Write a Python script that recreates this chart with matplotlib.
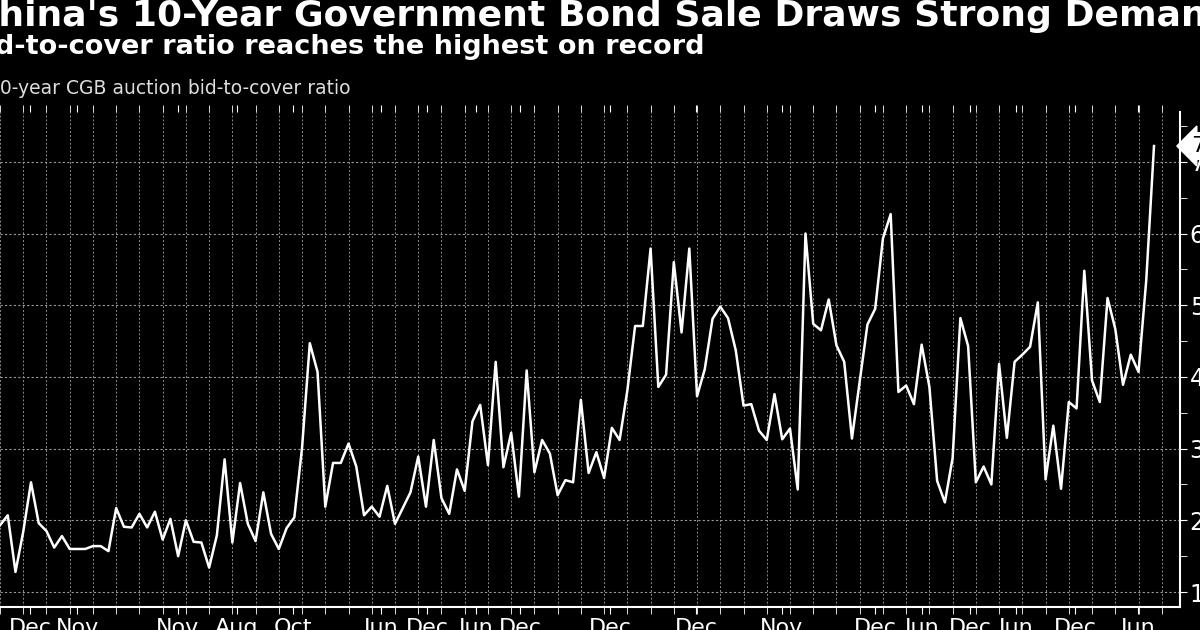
import matplotlib

matplotlib.use("Agg")
import matplotlib.pyplot as plt  # noqa: E402
from matplotlib.ticker import FixedLocator, MultipleLocator  # noqa: E402

# 10-year CGB auction bid-to-cover ratio, one value per auction
ratio = [
    1.93, 2.07, 1.28, 1.84, 2.53, 1.96, 1.85, 1.62, 1.78, 1.60,
    1.60, 1.60, 1.64, 1.64, 1.57, 2.17, 1.91, 1.90, 2.09, 1.90,
    2.12, 1.73, 2.02, 1.50, 2.00, 1.70, 1.69, 1.34, 1.79, 2.85,
    1.69, 2.52, 1.95, 1.71, 2.39, 1.81, 1.60, 1.89, 2.04, 3.01,
    4.47, 4.07, 2.19, 2.80, 2.80, 3.07, 2.75, 2.07, 2.19, 2.05,
    2.48, 1.95, 2.17, 2.39, 2.89, 2.19, 3.12, 2.31, 2.09, 2.71,
    2.41, 3.38, 3.61, 2.77, 4.21, 2.74, 3.22, 2.33, 4.09, 2.67,
    3.12, 2.93, 2.35, 2.56, 2.53, 3.68, 2.66, 2.95,
    2.59, 3.29, 3.12, 3.81, 4.71, 4.71, 5.79, 3.86, 4.03, 5.60,
    4.62, 5.79, 3.73, 4.11, 4.81, 4.98, 4.82, 4.37, 3.60, 3.62,
    3.25, 3.12, 3.76, 3.13, 3.28, 2.43, 6.00, 4.74, 4.65, 5.08,
    4.44, 4.21, 3.14, 3.93, 4.73, 4.95, 5.93, 6.27, 3.79, 3.88,
    3.62, 4.45, 3.86, 2.55, 2.25, 2.87, 4.82, 4.43, 2.53, 2.75,
    2.50, 4.18, 3.15, 4.21, 4.31, 4.42, 5.04, 2.57, 3.32, 2.44,
    3.65, 3.56, 5.48, 3.95, 3.65, 5.10, 4.67, 3.89, 4.31, 4.07,
    5.35, 7.22,
]

# x tick labels and their pixel centres in the reference (converted below)
tick_labels = ["Dec", "Nov", "Nov", "Aug", "Oct", "Jun", "Dec", "Jun", "Dec",
               "Dec", "Dec", "Nov", "Dec", "Jun", "Dec", "Jun", "Dec", "Jun"]
tick_px = [30, 77, 178, 237, 293, 381, 427, 476, 520,
           610, 696, 782, 875, 922, 970, 1016, 1075, 1138]

W, H = 1200, 630
AX_RIGHT_PX = 1180
LAST_PX = 1154
step = LAST_PX / (len(ratio) - 1)

fig = plt.figure(figsize=(12, 6.3), dpi=100, facecolor="black")
ax = fig.add_axes([0, 1 - 607 / H, AX_RIGHT_PX / W, (607 - 112) / H])
ax.set_facecolor("black")

ax.plot(range(len(ratio)), ratio, color="white", linewidth=1.8)

ax.set_xlim(0, AX_RIGHT_PX / step)
ax.set_ylim(1 - 15 / 71.7, 1 + 480 / 71.7)

# axes and ticks
for side in ["top", "left"]:
    ax.spines[side].set_visible(False)
for side in ["right", "bottom"]:
    ax.spines[side].set_color("white")
    ax.spines[side].set_linewidth(1.5)

ax.yaxis.tick_right()
ax.yaxis.set_minor_locator(MultipleLocator(0.5))
ax.set_yticks(range(1, 8))
ax.set_yticklabels([str(v) for v in range(1, 8)])
ax.tick_params(axis="y", which="both", colors="white", labelsize=17,
               direction="out", length=5, pad=2)

ax.xaxis.set_major_locator(FixedLocator([p / step for p in tick_px]))
ax.set_xticklabels(tick_labels)
ax.xaxis.set_minor_locator(MultipleLocator(3))
ax.tick_params(axis="x", which="both", colors="white", labelsize=16,
               direction="out", length=5, pad=3, top=True)

ax.grid(True, which="major", axis="y", color="#9a9a9a", linestyle=(0, (2, 2)), linewidth=0.8)
ax.grid(True, which="minor", axis="x", color="#8a8a8a", linestyle=(0, (2, 2)), linewidth=0.7)

# last value callout
ax.annotate("7.2", xy=(1, ratio[-1]), xycoords=("axes fraction", "data"),
            xytext=(8, 0), textcoords="offset points", va="center", ha="left",
            fontsize=16, color="black",
            bbox=dict(boxstyle="larrow,pad=0.15", fc="white", ec="white"))

# titles (cropped at the left edge like the reference)
fig.text(-0.023, 1 - 16 / H, "China's 10-Year Government Bond Sale Draws Strong Demand",
         color="white", fontsize=26, fontweight="bold", va="center", ha="left")
fig.text(-0.029, 1 - 47 / H, "Bid-to-cover ratio reaches the highest on record",
         color="white", fontsize=19.5, fontweight="bold", va="center", ha="left")
fig.text(-0.01, 1 - 88 / H, "10-year CGB auction bid-to-cover ratio",
         color="#dddddd", fontsize=13.5, va="center", ha="left")

fig.savefig("out.png", dpi=100, facecolor="black")
